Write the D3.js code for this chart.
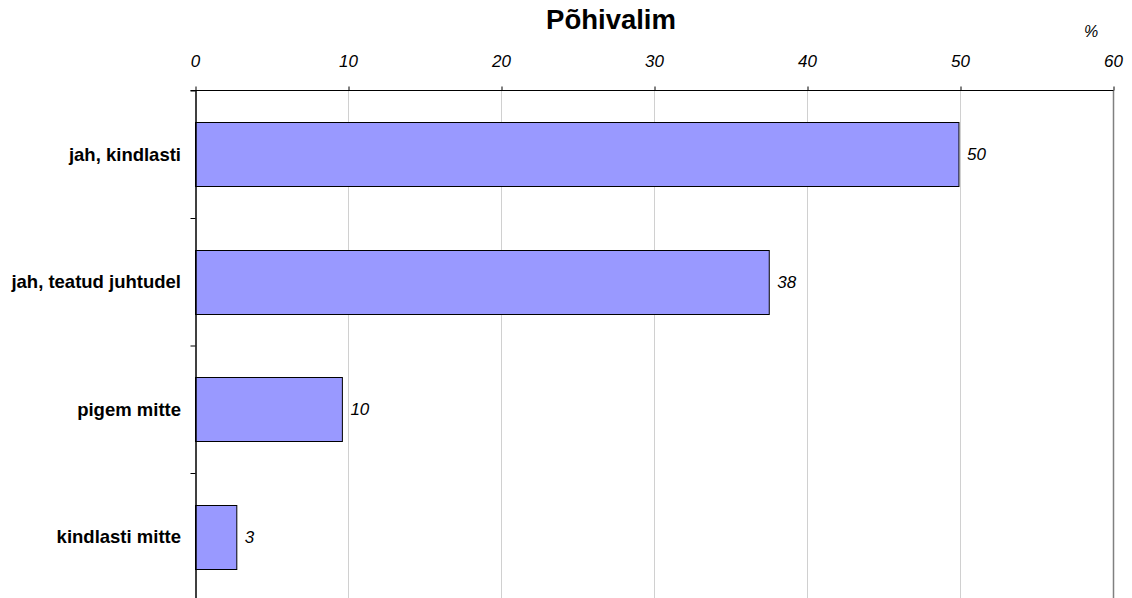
<!DOCTYPE html>
<html>
<head>
<meta charset="utf-8">
<script src="https://cdn.jsdelivr.net/npm/d3@7"></script>
<style>
  html, body { margin: 0; padding: 0; background: #fff; }
  svg { display: block; font-family: "Liberation Sans", Arial, sans-serif; }
</style>
</head>
<body>
<svg id="chart" width="1132" height="598"></svg>
<script>
const categories = ["jah, kindlasti", "jah, teatud juhtudel", "pigem mitte", "kindlasti mitte"];
const values = [49.9, 37.5, 9.6, 2.7];
const valueLabels = ["50", "38", "10", "3"];
const xTicks = [0, 10, 20, 30, 40, 50, 60];
const title = "Põhivalim";
const unitLabel = "%";

(function () {
const svg = d3.select("#chart");
const pLeft = 195.5, pRight = 1113.5, pTop = 90.5, pBottom = 600.5;

const x = d3.scaleLinear().domain([0, 60]).range([pLeft, pRight]);
const y = d3.scaleBand().domain(categories).range([pTop, pBottom]).paddingInner(0.5).paddingOuter(0.25);
const yb = d3.scaleLinear().domain([0, categories.length]).range([pTop, pBottom]);

// gridlines
svg.append("g").selectAll("line")
  .data(xTicks.filter(d => d > 0))
  .join("line")
  .attr("x1", d => x(d)).attr("x2", d => x(d))
  .attr("y1", pTop).attr("y2", pBottom)
  .attr("stroke", d => d === 60 ? "#808080" : "#a0a0a0")
  .attr("stroke-width", d => d === 60 ? 1.5 : 1)
  .attr("stroke-dasharray", d => d === 60 ? null : "1,1");

// bars
svg.append("g").selectAll("rect")
  .data(categories)
  .join("rect")
  .attr("x", x(0))
  .attr("y", d => Math.round(y(d)) + 0.5)
  .attr("width", (d, i) => x(values[i]) - x(0))
  .attr("height", Math.round(y.bandwidth()))
  .attr("fill", "#9999ff")
  .attr("stroke", "#000")
  .attr("stroke-width", 1);

// value labels
svg.append("g").selectAll("text")
  .data(categories)
  .join("text")
  .attr("x", (d, i) => x(values[i]) + 8)
  .attr("y", d => y(d) + y.bandwidth() / 2)
  .attr("dy", "0.36em")
  .attr("font-size", 17)
  .attr("font-style", "italic")
  .attr("fill", "#000")
  .text((d, i) => valueLabels[i]);

// top axis
const xAxis = d3.axisTop(x).tickValues(xTicks).tickSize(4).tickSizeOuter(0).tickFormat(d3.format("d"));
const gx = svg.append("g").attr("transform", `translate(0,${pTop})`).call(xAxis);
gx.select(".domain").attr("stroke", "#000").attr("d", `M${pLeft - 5},0H${pRight}`);
gx.selectAll(".tick line").attr("stroke", "#000");
gx.selectAll(".tick text").remove();

svg.append("g").selectAll("text")
  .data(xTicks)
  .join("text")
  .attr("x", d => x(d))
  .attr("y", 67)
  .attr("text-anchor", "middle")
  .attr("font-size", 17)
  .attr("font-style", "italic")
  .attr("fill", "#000")
  .text(d => d);

// left axis (ticks at category boundaries)
const yAxis = d3.axisLeft(yb).ticks(categories.length).tickSize(5).tickSizeOuter(0).tickFormat("");
const gy = svg.append("g").attr("transform", `translate(${pLeft},0)`).call(yAxis);
gy.select(".domain").attr("stroke", "#000").attr("stroke-width", 1.5);
gy.selectAll(".tick line").attr("stroke", "#000");

// category labels
svg.append("g").selectAll("text")
  .data(categories)
  .join("text")
  .attr("x", 181)
  .attr("y", d => y(d) + y.bandwidth() / 2)
  .attr("dy", "0.36em")
  .attr("text-anchor", "end")
  .attr("font-size", 18.5)
  .attr("font-weight", "bold")
  .attr("fill", "#000")
  .text(d => d);

// title
svg.append("text")
  .attr("x", 611)
  .attr("y", 29)
  .attr("text-anchor", "middle")
  .attr("font-size", 27.5)
  .attr("font-weight", "bold")
  .attr("fill", "#000")
  .text(title);

svg.append("text")
  .attr("x", 1091)
  .attr("y", 37)
  .attr("text-anchor", "middle")
  .attr("font-size", 16)
  .attr("font-style", "italic")
  .attr("fill", "#000")
  .text(unitLabel);
})();
</script>
</body>
</html>
